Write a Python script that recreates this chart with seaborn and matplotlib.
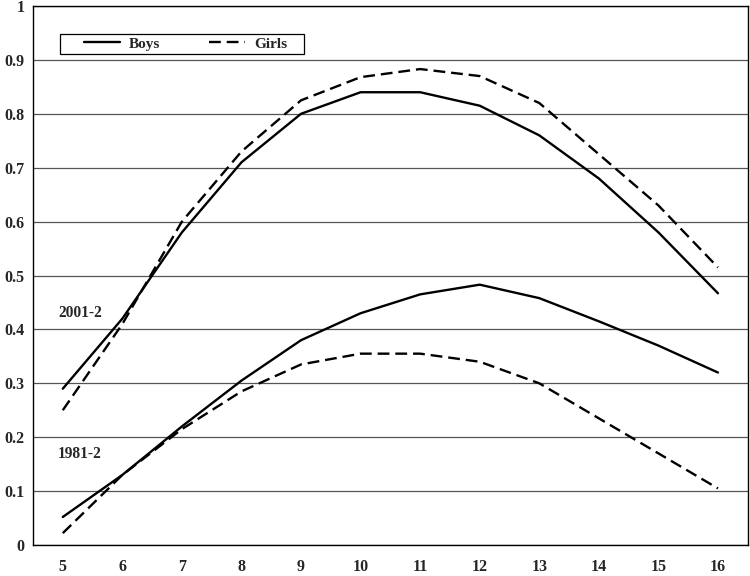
import numpy as np
import pandas as pd
import matplotlib
matplotlib.use("Agg")
import matplotlib.pyplot as plt
import seaborn as sns
from matplotlib.lines import Line2D
from matplotlib.patches import Rectangle

ages = [5, 6, 7, 8, 9, 10, 11, 12, 13, 14, 15, 16]
boys_2001 = [0.29, 0.42, 0.58, 0.71, 0.80, 0.84, 0.84, 0.815, 0.76, 0.68, 0.58, 0.467]
girls_2001 = [0.25, 0.41, 0.60, 0.73, 0.825, 0.868, 0.883, 0.87, 0.82, 0.725, 0.63, 0.515]
boys_1981 = [0.052, 0.13, 0.22, 0.305, 0.38, 0.43, 0.465, 0.483, 0.458, 0.415, 0.37, 0.32]
girls_1981 = [0.022, 0.13, 0.215, 0.285, 0.335, 0.355, 0.355, 0.34, 0.30, 0.235, 0.17, 0.105]

rows = []
for cohort, sex, vals in [("2001-2", "Boys", boys_2001), ("2001-2", "Girls", girls_2001),
                          ("1981-2", "Boys", boys_1981), ("1981-2", "Girls", girls_1981)]:
    for a, v in zip(ages, vals):
        rows.append({"age": a, "value": v, "sex": sex, "cohort": cohort})
df = pd.DataFrame(rows)

sns.set_style("white")
plt.rcParams['font.family'] = ['Liberation Serif', 'DejaVu Serif']
plt.rcParams['font.weight'] = 'bold'

fig = plt.figure(figsize=(7.5, 5.76), dpi=100)
ax = fig.add_axes([0.044, 0.0538, 0.953, 0.9358])

dash = (5, 2.5)
sns.lineplot(data=df, x="age", y="value", style="sex", units="cohort", estimator=None,
             color="black", linewidth=1.7, dashes={"Boys": "", "Girls": dash},
             legend=False, ax=ax)

ax.set_xlim(4.5, 16.5)
ax.set_ylim(0, 1)
ax.set_yticks(np.arange(0, 1.01, 0.1))
ax.set_yticklabels(["0"] + [f"{v:.1f}" for v in np.arange(0.1, 0.95, 0.1)] + ["1"])
ax.set_xticks(ages)
ax.set_xticklabels([str(a) for a in ages])
ax.set_xticks(np.arange(4.5, 16.6, 1), minor=True)
ax.tick_params(axis='x', which='major', length=0, pad=10, labelsize=11.5)
ax.tick_params(axis='x', which='minor', length=5, width=1, direction='out', color='black')
ax.tick_params(axis='y', length=5, width=1, direction='out', color='black', pad=1, labelsize=11.5)
ax.yaxis.grid(True, color='#555555', linewidth=0.9)
ax.set_axisbelow(True)
for s in ax.spines.values():
    s.set_color('black')
    s.set_linewidth(1.0)
ax.set_xlabel("")
ax.set_ylabel("")

ax.text(5.29, 0.43, "2001-2", ha='center', va='center', fontsize=11.2, fontweight='bold')
ax.text(5.29, 0.169, "1981-2", ha='center', va='center', fontsize=11.2, fontweight='bold')

# legend box
ax.add_patch(Rectangle((0.0378, 0.911), 0.342, 0.037, transform=ax.transAxes,
                       facecolor='white', edgecolor='black', linewidth=0.9, zorder=4))
handles = [Line2D([], [], color='black', lw=1.7),
           Line2D([], [], color='black', lw=1.7, dashes=dash)]
leg = ax.legend(handles, ["Boys", "Girls"], ncol=2, loc='center left',
                bbox_to_anchor=(0.0713, 0.9295), borderaxespad=0, borderpad=0,
                frameon=False, handlelength=2.35, handletextpad=0.6, columnspacing=3.2,
                prop={'weight': 'bold', 'size': 11})
leg.set_zorder(5)

fig.savefig("out.png", dpi=100)
